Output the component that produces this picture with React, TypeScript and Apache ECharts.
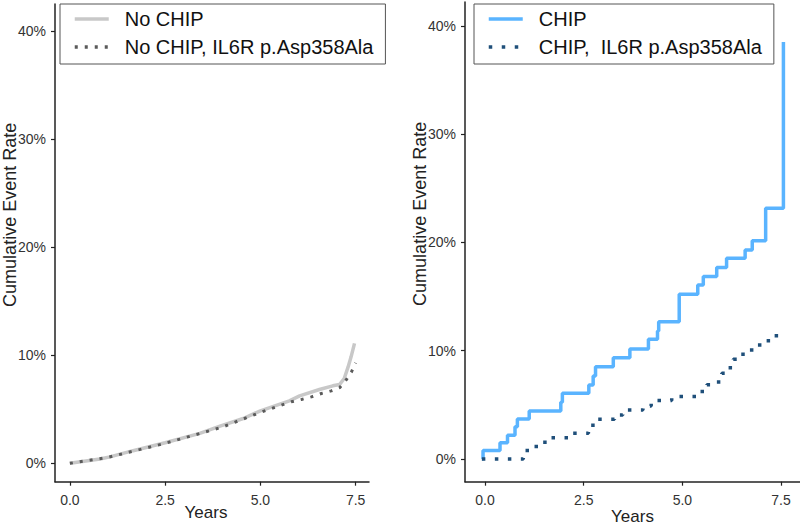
import React, { useEffect, useRef } from "react";
import * as echarts from "echarts";

// ---- Data (years, cumulative event rate %) ----
const noChip: [number, number][] = [
  [0, 0], [0.79, 0.4], [1.05, 0.6], [1.66, 1.17], [2.5, 1.9], [3.41, 2.77],
  [3.94, 3.44], [4.55, 4.15], [5.0, 4.86], [5.76, 5.78], [6.03, 6.24],
  [6.55, 6.83], [6.9, 7.17], [7.08, 7.3], [7.2, 7.85], [7.3, 8.9],
  [7.38, 9.85], [7.47, 11.1],
];
const noChipIL6R: [number, number][] = [
  [0, 0], [1.0, 0.55], [2.5, 1.85], [4.0, 3.35], [5.0, 4.72], [5.55, 5.38],
  [5.81, 5.69], [6.08, 5.91], [6.34, 6.15], [6.6, 6.46], [6.86, 6.7],
  [7.08, 7.0], [7.26, 7.76], [7.39, 8.46], [7.5, 9.3],
];
const chip: [number, number][] = [
  [-0.07, 0], [-0.05, 0.77], [0.38, 1.5], [0.57, 2.2], [0.76, 2.98],
  [0.82, 3.69], [1.12, 4.43], [1.92, 5.23], [1.96, 6.06], [2.63, 6.83],
  [2.74, 7.66], [2.8, 8.52], [3.25, 9.35], [3.67, 10.16], [4.14, 11.05],
  [4.37, 11.82], [4.4, 12.68], [4.92, 15.2], [5.39, 16.07], [5.53, 16.84],
  [5.87, 17.67], [6.12, 18.53], [6.59, 19.3], [6.77, 20.16], [7.11, 23.15],
  [7.56, 38.5],
];
const chipIL6R: [number, number][] = [
  [-0.08, 0], [0.97, 0.77], [1.18, 1.14], [1.39, 1.54], [1.6, 1.97],
  [2.11, 2.37], [2.62, 3.11], [2.79, 3.66], [3.28, 4.06], [3.49, 4.52],
  [4.0, 4.89], [4.21, 5.39], [4.73, 5.76], [5.4, 6.22], [5.62, 6.86],
  [5.83, 7.11], [6.0, 7.91], [6.15, 8.43], [6.29, 9.2], [6.46, 9.66],
  [6.67, 10.06], [6.88, 10.52], [7.09, 10.92], [7.3, 11.38], [7.56, 11.38],
];

const xTicks = [0, 2.5, 5, 7.5];
const yTicks = [0, 10, 20, 30, 40];

const seriesNames = {
  noChip: "No CHIP",
  noChipIL6R: "No CHIP, IL6R p.Asp358Ala",
  chip: "CHIP",
  chipIL6R: "CHIP,  IL6R p.Asp358Ala",
};

const FONT = "Liberation Sans, Arial, Helvetica, sans-serif";

export default function App() {
  const ref = useRef<HTMLDivElement>(null);
  useEffect(() => {
    if (!ref.current) return;
    const chart = echarts.init(ref.current, undefined, { renderer: "svg" });
    const axisColor = "#222";
    const mkX = (gridIndex: number, min: number, max: number, gap: number, pad: number[]) => ({
      type: "value",
      gridIndex,
      min,
      max,
      name: "Years",
      nameLocation: "middle",
      nameGap: gap,
      nameMoveOverlap: false,
      nameTextStyle: { fontSize: 17, color: "#222", fontFamily: FONT, padding: pad },
      splitLine: { show: false },
      axisLine: { show: true, onZero: false, lineStyle: { color: axisColor, width: 1.5 } },
      axisTick: { show: true, length: 4, customValues: xTicks, lineStyle: { color: axisColor, width: 1.2 } },
      axisLabel: {
        customValues: xTicks,
        formatter: (v: number) => v.toFixed(1),
        fontSize: 14,
        color: "#333",
        fontFamily: FONT,
        margin: 11,
      },
    });
    const mkY = (gridIndex: number, min: number, max: number, gap: number) => ({
      type: "value",
      gridIndex,
      min,
      max,
      name: "Cumulative Event Rate",
      nameLocation: "middle",
      nameGap: gap,
      nameMoveOverlap: false,
      nameTextStyle: { fontSize: 18, color: "#222", fontFamily: FONT, padding: [0, 0, 0, 56] },
      splitLine: { show: false },
      axisLine: { show: true, onZero: false, lineStyle: { color: axisColor, width: 1.5 } },
      axisTick: { show: true, length: 4, customValues: yTicks, lineStyle: { color: axisColor, width: 1.2 } },
      axisLabel: {
        customValues: yTicks,
        formatter: (v: number) => `${v}%`,
        fontSize: 14,
        color: "#333",
        fontFamily: FONT,
        margin: 9,
      },
    });
    const legendBase = {
      orient: "vertical",
      top: 4,
      borderColor: "#555",
      borderWidth: 1,
      padding: [5, 12, 7, 13],
      itemWidth: 34,
      itemHeight: 14,
      itemGap: 8,
      itemStyle: { opacity: 0 },
      lineStyle: { width: 3.5 },
      textStyle: { fontSize: 20, color: "#111", fontFamily: FONT, padding: [0, 0, 0, 11] },
    };
    chart.setOption({
      animation: false,
      backgroundColor: "#fff",
      grid: [
        { left: 55, top: 4, width: 314, bottom: 45.3, containLabel: false, outerBoundsMode: "none" },
        { left: 465, top: 2, right: 0, bottom: 45.3, containLabel: false, outerBoundsMode: "none" },
      ],
      xAxis: [mkX(0, -0.39, 7.85, 22, [0, 12, 0, 0]), mkX(1, -0.507, 7.98, 26, [0, 0, 0, 0])],
      yAxis: [mkY(0, -1.7, 42.5, 36), mkY(1, -2.1, 42.2, 36)],
      legend: [
        { ...legendBase, left: 60, data: [seriesNames.noChip, seriesNames.noChipIL6R] },
        { ...legendBase, left: 474, data: [seriesNames.chip, seriesNames.chipIL6R] },
      ],
      series: [
        {
          name: seriesNames.noChip,
          type: "line",
          xAxisIndex: 0,
          yAxisIndex: 0,
          data: noChip,
          symbol: "none",
          color: "#c8c8c8",
          lineStyle: { color: "#c8c8c8", width: 3.5 },
        },
        {
          name: seriesNames.noChipIL6R,
          type: "line",
          xAxisIndex: 0,
          yAxisIndex: 0,
          data: noChipIL6R,
          symbol: "none",
          color: "#5a5a5a",
          lineStyle: { color: "#5a5a5a", width: 3, type: [3, 7] },
          z: 3,
        },
        {
          name: seriesNames.chip,
          type: "line",
          xAxisIndex: 1,
          yAxisIndex: 1,
          data: chip,
          step: "end",
          symbol: "none",
          color: "#5ab4ff",
          lineStyle: { color: "#5ab4ff", width: 3.5 },
        },
        {
          name: seriesNames.chipIL6R,
          type: "line",
          xAxisIndex: 1,
          yAxisIndex: 1,
          data: chipIL6R,
          step: "end",
          symbol: "none",
          color: "#1f4f7a",
          lineStyle: { color: "#1f4f7a", width: 3.5, type: [3.5, 9.5] },
        },
      ],
    });
    return () => chart.dispose();
  }, []);
  return <div ref={ref} style={{ width: 800, height: 527, position: "absolute", left: 0, top: 0 }} />;
}
